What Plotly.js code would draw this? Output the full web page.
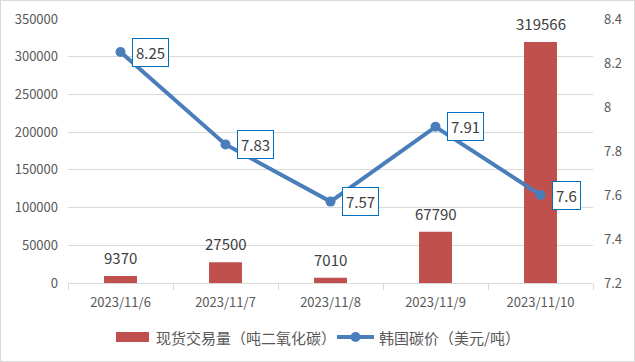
<!DOCTYPE html>
<html>
<head>
<meta charset="utf-8">
<script src="https://cdn.plot.ly/plotly-3.0.1.min.js"></script>
<style>
  html, body { margin: 0; padding: 0; background: #fff; }
  #wrap { position: relative; width: 635px; height: 362px; }
  #chart { width: 635px; height: 362px; }
  #frame { position: absolute; left: 0; top: 0; width: 635px; height: 362px; box-sizing: border-box; border: 1px solid #d9d9d9; pointer-events: none; }
</style>
</head>
<body>
<div id="wrap"><div id="chart"></div><div id="frame"></div></div>
<script>
const categories = ["2023/11/6", "2023/11/7", "2023/11/8", "2023/11/9", "2023/11/10"];
const volume = [9370, 27500, 7010, 67790, 319566];
const price = [8.25, 7.83, 7.57, 7.91, 7.6];
const volumeName = "现货交易量（吨二氧化碳）";
const priceName = "韩国碳价（美元/吨）";

const FONT = '"Noto Sans CJK SC", "Noto Sans", sans-serif';
const GREY = '#595959';
const TXT = '#404040';
const RED = '#C0504D';
const BLUE = '#4A7EBB';

// plot area geometry (pixels) for converting legend placement to paper coords
const L = 68, R = 42, T = 19, B = 79, W = 635, H = 362;
const PW = W - L - R, PH = H - T - B;
const px = v => (v - L) / PW;
const py = v => (H - B - v) / PH;

const barTrace = {
  type: 'bar', x: categories, y: volume, name: volumeName,
  marker: { color: RED }, yaxis: 'y', hoverinfo: 'skip', showlegend: false
};
const lineTrace = {
  type: 'scatter', mode: 'lines+markers', x: categories, y: price, name: priceName,
  yaxis: 'y2', line: { color: BLUE, width: 4 },
  marker: { color: BLUE, size: 10 }, hoverinfo: 'skip', showlegend: false
};

const annotations = [];
categories.forEach((c, i) => {
  annotations.push({
    x: c, y: volume[i], xref: 'x', yref: 'y', text: String(volume[i]),
    showarrow: false, yanchor: 'bottom', yshift: 6,
    font: { family: FONT, size: 15, color: TXT }
  });
  annotations.push({
    x: c, y: price[i], xref: 'x', yref: 'y2', text: String(price[i]),
    showarrow: false, xanchor: 'left', yanchor: 'middle', xshift: 11,
    bgcolor: '#ffffff', bordercolor: '#0070C0', borderwidth: 1, borderpad: 3,
    font: { family: FONT, size: 15, color: TXT }
  });
});

// legend (custom, to match the wide bar swatch)
const legY = 337;
annotations.push({
  xref: 'paper', yref: 'paper', x: px(154), y: py(legY), xanchor: 'left', yanchor: 'middle',
  text: volumeName, showarrow: false, font: { family: FONT, size: 15, color: GREY }
});
annotations.push({
  xref: 'paper', yref: 'paper', x: px(377), y: py(legY), xanchor: 'left', yanchor: 'middle',
  text: priceName, showarrow: false, font: { family: FONT, size: 15, color: GREY }
});
const shapes = [
  { type: 'rect', xref: 'paper', yref: 'paper', x0: px(116), x1: px(149), y0: py(342), y1: py(332),
    fillcolor: RED, line: { width: 0 } },
  { type: 'line', xref: 'paper', yref: 'paper', x0: px(337), x1: px(374), y0: py(legY), y1: py(legY),
    line: { color: BLUE, width: 4 } },
  { type: 'circle', xref: 'paper', yref: 'paper', x0: px(350.5), x1: px(360.5), y0: py(legY + 5), y1: py(legY - 5),
    fillcolor: BLUE, line: { width: 0 } }
];

const layout = {
  width: W, height: H,
  margin: { l: L, r: R, t: T, b: B },
  paper_bgcolor: '#ffffff', plot_bgcolor: '#ffffff',
  font: { family: FONT, color: GREY },
  bargap: 0.686,
  showlegend: false,
  xaxis: {
    type: 'category', tickson: 'boundaries', ticks: 'outside', ticklen: 6,
    tickcolor: '#d9d9d9', showline: true, linecolor: '#d9d9d9', linewidth: 1,
    showgrid: false, ticklabelstandoff: 7,
    tickfont: { family: FONT, size: 13, color: GREY }
  },
  yaxis: {
    range: [0, 350000], dtick: 50000, tickformat: 'd', showgrid: true,
    gridcolor: '#d9d9d9', zeroline: false, showline: false, ticks: '',
    ticklabelstandoff: 9,
    tickfont: { family: FONT, size: 13, color: GREY }
  },
  yaxis2: {
    overlaying: 'y', side: 'right', range: [7.2, 8.4], dtick: 0.2,
    showgrid: false, zeroline: false, showline: false, ticks: '',
    ticklabelstandoff: 10,
    tickfont: { family: FONT, size: 13, color: GREY }
  },
  annotations: annotations,
  shapes: shapes
};

Plotly.newPlot('chart', [barTrace, lineTrace], layout, { displayModeBar: false, staticPlot: true });
</script>
</body>
</html>
